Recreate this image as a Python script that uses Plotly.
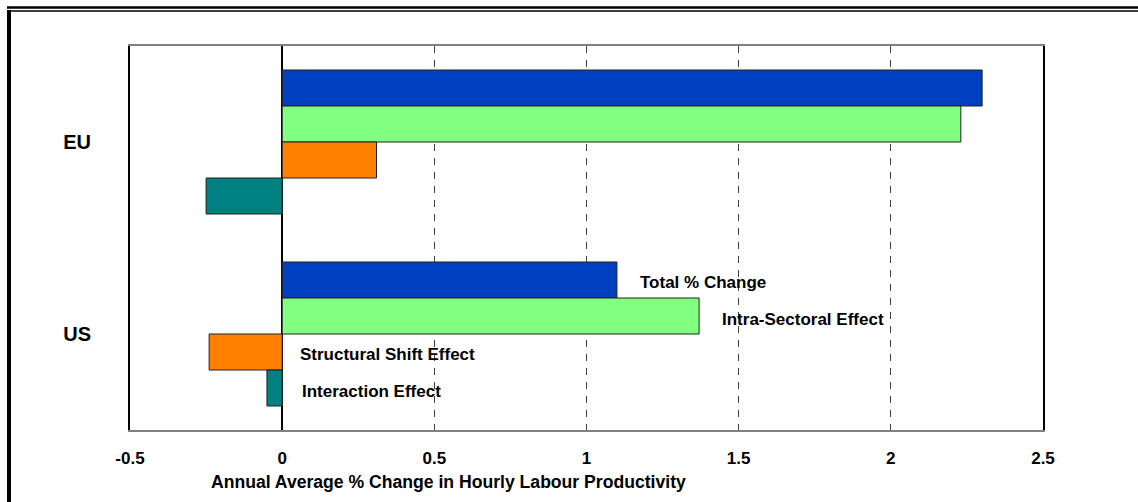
import plotly.graph_objects as go

# Regions (top to bottom) and the four decomposition components
regions = ["EU", "US"]
series_names = ["Total % Change", "Intra-Sectoral Effect", "Structural Shift Effect", "Interaction Effect"]
series_colors = ["#0040C0", "#80FF80", "#FF8000", "#008080"]
total_change = [2.30, 1.10]
intra_sectoral = [2.23, 1.37]
structural_shift = [0.31, -0.24]
interaction = [-0.25, -0.05]
series_values = [total_change, intra_sectoral, structural_shift, interaction]

x_ticks = [-0.5, 0, 0.5, 1, 1.5, 2, 2.5]
x_title = "Annual Average % Change in Hourly Labour Productivity"

FONT = "Liberation Sans, Arial, sans-serif"

fig = go.Figure()
for name, vals, col in zip(series_names, series_values, series_colors):
    fig.add_trace(go.Bar(
        y=regions, x=vals, name=name, orientation="h",
        marker=dict(color=col, line=dict(color="#202020", width=1)),
        showlegend=False,
    ))

# Series names written beside the US bars
group_width = 0.75
bar_w = group_width / len(series_names)
label_shift = [21, 21, 16, 18]
label_yshift = [-2, -3, -2, -3]
us_idx = regions.index("US")
annotations = []
for i, name in enumerate(series_names):
    v = series_values[i][us_idx]
    yoff = -group_width / 2 + bar_w * (i + 0.5)
    annotations.append(dict(
        x=max(v, 0), y=us_idx + yoff, xref="x", yref="y",
        text="<b>%s</b>" % name, showarrow=False,
        xanchor="left", yanchor="middle",
        xshift=label_shift[i], yshift=label_yshift[i],
        font=dict(family=FONT, size=17, color="black"),
    ))

annotations.append(dict(
    x=0.349, y=-0.135, xref="paper", yref="paper",
    text="<b>%s</b>" % x_title, showarrow=False,
    xanchor="center", yanchor="middle",
    font=dict(family=FONT, size=17.6, color="black"),
))

# Outer frame: double rule across the top and a heavy rule on the left
L, T, W, H = 130, 46, 913, 384
def px(x):
    return (x - L) / W
def py(y):
    return (T + H - y) / H

shapes = [
    dict(type="line", xref="paper", yref="paper", x0=px(7), x1=px(1138), y0=py(7.5), y1=py(7.5),
         line=dict(color="black", width=2.5)),
    dict(type="line", xref="paper", yref="paper", x0=px(11), x1=px(1138), y0=py(11), y1=py(11),
         line=dict(color="black", width=1.5)),
    dict(type="line", xref="paper", yref="paper", x0=px(9), x1=px(9), y0=py(10), y1=py(502),
         line=dict(color="black", width=4)),
]

fig.update_layout(
    width=1138, height=502,
    margin=dict(l=L, r=1138 - L - W, t=T, b=502 - T - H),
    paper_bgcolor="white", plot_bgcolor="white",
    barmode="group", bargap=0.25, bargroupgap=0,
    font=dict(family=FONT, color="black"),
    annotations=annotations, shapes=shapes,
    xaxis=dict(
        range=[-0.5, 2.5], tickvals=x_ticks,
        ticktext=["<b>%g</b>" % t for t in x_ticks],
        tickfont=dict(family=FONT, size=17, color="black"),
        showgrid=True, gridcolor="#404040", gridwidth=1, griddash="7px,7px",
        zeroline=True, zerolinecolor="black", zerolinewidth=2,
        showline=True, linecolor="#808080", linewidth=2, mirror=True,
        ticks="", ticklabelstandoff=12,
    ),
    yaxis=dict(
        categoryorder="array", categoryarray=regions, autorange="reversed",
        ticktext=["<b>%s</b>" % r for r in regions], tickvals=regions,
        tickfont=dict(family=FONT, size=20, color="black"),
        showgrid=False, zeroline=False,
        showline=True, linecolor="black", linewidth=2, mirror=True,
        ticks="", ticklabelstandoff=33,
    ),
)

fig.write_html("out.html")
